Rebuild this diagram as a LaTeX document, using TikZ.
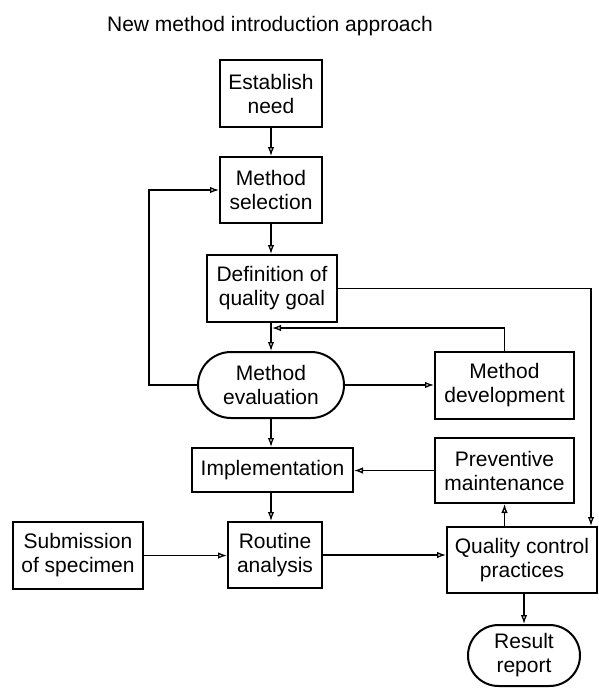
\documentclass[tikz,border=0pt]{standalone}
\usepackage{fontspec}
\setmainfont{Liberation Sans}
\usetikzlibrary{arrows.meta,shapes.misc,calc}
\begin{document}
\begin{tikzpicture}[x=1pt,y=-1pt,
  every node/.style={font=\fontsize{21}{24}\selectfont, align=center, inner sep=0pt},
  box/.style={draw, line width=2pt, rectangle},
  term/.style={draw, line width=2pt, rounded rectangle, rounded rectangle arc length=180},
  arr/.style={line width=1.8pt, -{Latex[open,length=9pt,width=6.5pt,line width=1.3pt]}}]
\useasboundingbox (0,0) rectangle (599,688);
\node (title) at (270,26) {New method introduction approach};
\node[box, minimum width=102pt, minimum height=67pt] (need) at (271,93.5) {Establish\\need};
\node[box, minimum width=102pt, minimum height=66pt] (sel) at (271,190) {Method\\selection};
\node[box, minimum width=130pt, minimum height=67pt] (def) at (272,288.5) {Definition of\\quality goal};
\node[term, minimum width=146pt, minimum height=66pt] (eval) at (271,385) {Method\\evaluation};
\node[box, minimum width=139pt, minimum height=67pt] (dev) at (504.5,385.5) {Method\\development};
\node[box, minimum width=161pt, minimum height=44pt] (impl) at (272.5,470) {Implementation};
\node[box, minimum width=139pt, minimum height=65pt] (prev) at (504.5,470.5) {Preventive\\maintenance};
\node[box, minimum width=130pt, minimum height=67pt] (sub) at (78,555.5) {Submission\\of specimen};
\node[box, minimum width=94pt, minimum height=66pt] (rout) at (275,555) {Routine\\analysis};
\node[box, minimum width=150pt, minimum height=66pt] (qc) at (522,560) {Quality control\\practices};
\node[term, minimum width=112pt, minimum height=61pt] (res) at (524,655.5) {Result\\report};
% connectors
\draw[arr] (need.south) -- (sel.north);
\draw[arr] (sel.south) -- (sel.south |- def.north);
\draw[arr] (def.south -| eval.north) -- (eval.north);
\draw[arr] (eval.west) -- ++(-48,0) |- (sel.west);
\draw[arr] (dev.north) |- ([xshift=1pt,yshift=-5pt]def.south -| eval.north);
\draw[arr] (eval.east) -- (eval.east -| dev.west);
\draw[arr] (eval.south) -- (eval.south |- impl.north);
\draw[arr] (prev.west) -- (prev.west -| impl.east);
\draw[arr] (eval.south |- impl.south) -- (eval.south |- rout.north);
\draw[arr] (sub.east) -- (sub.east -| rout.west);
\draw[arr] (rout.east) -- (rout.east -| qc.west);
\draw[arr] (prev.south |- qc.north) -- (prev.south);
\draw[arr] (def.east) -| ([xshift=-7pt]qc.north east);
\draw[arr] (res.north |- qc.south) -- (res.north);
\end{tikzpicture}
\end{document}
